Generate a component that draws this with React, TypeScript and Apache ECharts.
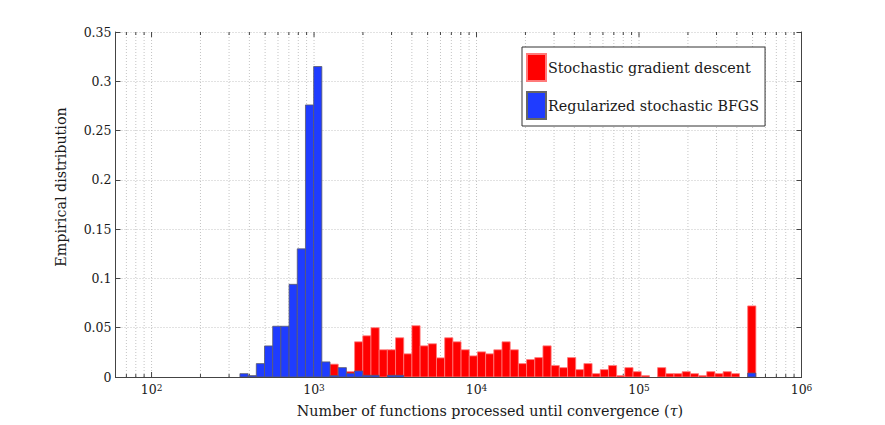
import React, { useEffect, useRef } from "react";
import * as echarts from "echarts";

// Histogram bins: equal width in log10(tau)
const firstBinLog10 = 2.544;
const binWidthLog10 = 0.0504;

// Empirical distribution per bin (63 bins)
const sgdValues = [
  0, 0, 0, 0, 0, 0, 0, 0, 0, 0,
  0, 0.013, 0, 0.0054, 0.0357, 0.0418, 0.05, 0.0276, 0.0276, 0.0398,
  0.0235, 0.052, 0.0316, 0.0337, 0.0194, 0.0398, 0.0357, 0.0276, 0.0214, 0.0255,
  0.0235, 0.0276, 0.0357, 0.0276, 0.0136, 0.0177, 0.0197, 0.0316, 0.0116, 0.0095,
  0.0197, 0.0075, 0.0136, 0.0034, 0.0075, 0.0116, 0.0014, 0.0095, 0.0054, 0.0014,
  0, 0.0095, 0.0034, 0.0034, 0.0054, 0.0034, 0.0014, 0.0054, 0.0034, 0.0054,
  0.0034, 0, 0.0721,
];
const bfgsValues = [
  0.0034, 0.0014, 0.0136, 0.0315, 0.0515, 0.0515, 0.094, 0.13, 0.276, 0.315,
  0.0153, 0.0014, 0.0095, 0.0037, 0.0061, 0.0017, 0.0017, 0, 0.0017, 0.0017,
  0, 0, 0, 0, 0, 0, 0, 0, 0, 0,
  0, 0, 0, 0, 0, 0, 0, 0, 0, 0,
  0, 0, 0, 0, 0, 0, 0, 0, 0, 0,
  0, 0, 0, 0, 0, 0, 0, 0, 0, 0,
  0, 0, 0.004,
];

const seriesNames = ["Stochastic gradient descent", "Regularized stochastic BFGS"];
const yTicks = [0, 0.05, 0.1, 0.15, 0.2, 0.25, 0.3, 0.35];
const xMin = 60;
const xMax = 1e6;
const xTitle = "Number of functions processed until convergence ({i|\u03c4})";
const yTitle = "Empirical distribution";

const FONT = "DejaVu Serif";
const TXT = "#1a1a1a";
const AXIS = "#444";

function binData(values: number[]) {
  return values.map((v, i) => {
    const lo = Math.pow(10, firstBinLog10 + i * binWidthLog10);
    const hi = Math.pow(10, firstBinLog10 + (i + 1) * binWidthLog10);
    return [lo, hi, v];
  });
}

function gridPositions() {
  const out: number[][] = [];
  for (let d = 10; d < xMax; d *= 10) {
    for (let k = 1; k <= 9; k++) {
      const v = k * d;
      if (v > xMin && v < xMax) out.push([v, k === 1 ? 1 : 0]);
    }
  }
  return out;
}

export default function App() {
  const ref = useRef<HTMLDivElement>(null);
  useEffect(() => {
    if (!ref.current) return;
    const chart = echarts.init(ref.current, null, { renderer: "svg" });

    const barRender = (fill: string, stroke: string) => (params: any, api: any) => {
      const v = api.value(2);
      if (!v) return null;
      const p0 = api.coord([api.value(0), v]);
      const p1 = api.coord([api.value(1), 0]);
      return {
        type: "rect",
        shape: { x: p0[0], y: p0[1], width: p1[0] - p0[0], height: p1[1] - p0[1] },
        style: { fill, stroke, lineWidth: 0.8 },
      };
    };

    const option: any = {
      animation: false,
      backgroundColor: "#fff",
      textStyle: { fontFamily: FONT },
      grid: { left: 115.5, right: 83.5, top: 32, bottom: 48, containLabel: false },
      xAxis: [
        {
          type: "log",
          logBase: 10,
          min: xMin,
          max: xMax,
          axisLine: { show: true, lineStyle: { color: AXIS, width: 1 } },
          axisTick: { show: false },
          splitLine: { show: false },
          axisLabel: {
            showMinLabel: false,
            showMaxLabel: true,
            margin: 6,
            formatter: (v: number) => `{b|10}{s|${Math.round(Math.log10(v))}}`,
            rich: {
              b: { fontFamily: FONT, fontSize: 12.5, color: TXT, lineHeight: 13, padding: [7, 0, 0, 0], verticalAlign: "bottom" },
              s: { fontFamily: FONT, fontSize: 9, color: TXT, lineHeight: 9, verticalAlign: "top" },
            },
          },
        },
        {
          type: "log",
          logBase: 10,
          min: xMin,
          max: xMax,
          position: "top",
          axisLine: { show: true, lineStyle: { color: AXIS, width: 1 } },
          axisTick: { show: false },
          axisLabel: { show: false },
          splitLine: { show: false },
        },
      ],
      yAxis: [
        {
          type: "value",
          min: 0,
          max: 0.35,
          interval: 0.05,
          axisLine: { show: true, lineStyle: { color: AXIS, width: 1 } },
          axisTick: { show: true, inside: true, length: 5, lineStyle: { color: AXIS } },
          splitLine: { show: true, lineStyle: { color: "#c4c4c4", type: [1, 2], width: 1 } },
          axisLabel: {
            margin: 4,
            fontFamily: FONT,
            fontSize: 12.5,
            color: TXT,
            formatter: (v: number) => {
              const hit = yTicks.find((t) => Math.abs(t - v) < 1e-9);
              return hit === undefined ? "" : String(hit);
            },
          },
        },
        {
          type: "value",
          min: 0,
          max: 0.35,
          interval: 0.05,
          position: "right",
          axisLine: { show: true, lineStyle: { color: AXIS, width: 1 } },
          axisTick: { show: true, inside: true, length: 5, lineStyle: { color: AXIS } },
          splitLine: { show: false },
          axisLabel: { show: false },
        },
      ],
      legend: {
        orient: "vertical",
        left: 522,
        top: 47,
        data: seriesNames,
        icon: "rect",
        itemWidth: 19,
        itemHeight: 27,
        itemGap: 9,
        padding: [6, 6, 6, 4],
        backgroundColor: "#fff",
        borderColor: "#333",
        borderWidth: 1,
        borderRadius: 0,
        textStyle: { fontFamily: FONT, fontSize: 14.3, color: TXT, padding: [0, 0, 0, -3] },
      },
      graphic: [
        {
          type: "text",
          x: 490,
          y: 411,
          style: {
            text: xTitle,
            fontFamily: FONT,
            fontSize: 14.3,
            fill: TXT,
            textAlign: "center",
            textVerticalAlign: "middle",
            rich: { i: { fontFamily: FONT, fontSize: 14.3, fontStyle: "italic", fill: TXT } },
          },
        },
        {
          type: "text",
          x: 61,
          y: 187,
          rotation: Math.PI / 2,
          style: { text: yTitle, fontFamily: FONT, fontSize: 14.3, fill: TXT, textAlign: "center", textVerticalAlign: "middle" },
        },
      ],
      series: [
        {
          type: "custom",
          name: "grid",
          silent: true,
          z: 1,
          clip: true,
          data: gridPositions(),
          encode: { x: 0 },
          renderItem: (params: any, api: any) => {
            const v = api.value(0);
            const major = api.value(1) === 1;
            const top = api.coord([v, 0.35]);
            const bot = api.coord([v, 0]);
            const tl = major ? 5 : 3;
            return {
              type: "group",
              children: [
                {
                  type: "line",
                  shape: { x1: bot[0], y1: bot[1], x2: top[0], y2: top[1] },
                  style: { stroke: "#c4c4c4", lineWidth: 1, lineDash: [1, 2] },
                },
                {
                  type: "line",
                  shape: { x1: bot[0], y1: bot[1], x2: bot[0], y2: bot[1] - tl },
                  style: { stroke: AXIS, lineWidth: 1 },
                },
                {
                  type: "line",
                  shape: { x1: top[0], y1: top[1], x2: top[0], y2: top[1] + tl },
                  style: { stroke: AXIS, lineWidth: 1 },
                },
              ],
            };
          },
        },
        {
          type: "custom",
          name: seriesNames[0],
          z: 3,
          clip: true,
          itemStyle: { color: "#ff0000", borderColor: "#ff7a7a", borderWidth: 1 },
          data: binData(sgdValues),
          encode: { x: [0, 1], y: 2 },
          renderItem: barRender("#ff0000", "#ff7a7a"),
        },
        {
          type: "custom",
          name: seriesNames[1],
          z: 4,
          clip: true,
          itemStyle: { color: "#1f3cff", borderColor: "#666", borderWidth: 1 },
          data: binData(bfgsValues),
          encode: { x: [0, 1], y: 2 },
          renderItem: barRender("#1f3cff", "#5a5a6a"),
        },
      ],
    };
    chart.setOption(option);
    return () => chart.dispose();
  }, []);
  return (
    <div
      ref={ref}
      style={{ position: "absolute", left: 0, top: 0, width: 885, height: 425 }}
    />
  );
}
